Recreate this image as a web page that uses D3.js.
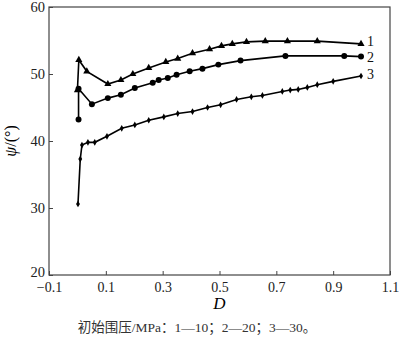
<!DOCTYPE html>
<html>
<head>
<meta charset="utf-8">
<script src="https://cdn.jsdelivr.net/npm/d3@7"></script>
<style>
  html, body { margin: 0; padding: 0; background: #fff; }
  svg { display: block; }
</style>
</head>
<body>
<svg id="chart" width="400" height="341"></svg>
<script>
// Dilatancy angle ψ versus damage variable D at three initial confining pressures
const series1D = [0.000, 0.005, 0.033, 0.107, 0.153, 0.195, 0.251, 0.311, 0.353, 0.405, 0.465, 0.507, 0.545, 0.595, 0.661, 0.739, 0.844, 0.998];
const series1Psi = [47.6, 52.1, 50.4, 48.5, 49.1, 50.0, 50.9, 51.8, 52.3, 53.1, 53.7, 54.2, 54.5, 54.8, 54.9, 54.9, 54.9, 54.5];

const series2D = [0.004, 0.004, 0.051, 0.107, 0.153, 0.202, 0.265, 0.286, 0.318, 0.349, 0.395, 0.440, 0.496, 0.574, 0.732, 0.939, 0.998];
const series2Psi = [43.2, 47.8, 45.5, 46.4, 46.9, 47.9, 48.7, 49.1, 49.4, 49.9, 50.4, 50.8, 51.4, 52.0, 52.7, 52.7, 52.6];

const series3D = [0.002, 0.010, 0.016, 0.037, 0.061, 0.104, 0.156, 0.202, 0.251, 0.304, 0.353, 0.405, 0.458, 0.504, 0.560, 0.612, 0.651, 0.721, 0.749, 0.777, 0.809, 0.844, 0.900, 0.998];
const series3Psi = [30.6, 37.3, 39.4, 39.8, 39.8, 40.7, 41.9, 42.4, 43.1, 43.6, 44.1, 44.4, 45.0, 45.4, 46.2, 46.6, 46.8, 47.4, 47.6, 47.7, 48.0, 48.4, 48.9, 49.7];

const seriesLabels = ["1", "2", "3"];
const xTicks = [-0.1, 0.1, 0.3, 0.5, 0.7, 0.9, 1.1];
const yTicks = [20, 30, 40, 50, 60];
const caption = "初始围压/MPa：1—10；2—20；3—30。";

const margin = { left: 49, right: 10, top: 7, bottom: 66 };
const W = 400, H = 341;
const svg = d3.select("#chart");
const serif = "'Liberation Serif', 'Times New Roman', serif";

const x = d3.scaleLinear().domain([-0.1, 1.1]).range([margin.left, W - margin.right]);
const y = d3.scaleLinear().domain([20, 60]).range([H - margin.bottom, margin.top]);

// frame
svg.append("rect")
  .attr("x", x(-0.1)).attr("y", y(60))
  .attr("width", x(1.1) - x(-0.1)).attr("height", y(20) - y(60))
  .attr("fill", "none").attr("stroke", "#444").attr("stroke-width", 1.2);

// axes with inward ticks
const xAxis = svg.append("g")
  .attr("transform", `translate(0,${y(20)})`)
  .call(d3.axisBottom(x).tickValues(xTicks).tickSizeInner(-4).tickSizeOuter(0)
    .tickFormat(d => d < 0 ? "\u22120.1" : d3.format(".1f")(d)));
xAxis.select(".domain").remove();
xAxis.selectAll("line").attr("stroke", "#444");
xAxis.selectAll("text").attr("font-family", serif).attr("font-size", 14)
  .attr("fill", "#222").attr("dy", "0.71em").attr("y", 7);

const yAxis = svg.append("g")
  .attr("transform", `translate(${x(-0.1)},0)`)
  .call(d3.axisLeft(y).tickValues(yTicks).tickSizeInner(-4).tickSizeOuter(0));
yAxis.select(".domain").remove();
yAxis.selectAll("line").attr("stroke", "#444");
yAxis.selectAll("text").attr("font-family", serif).attr("font-size", 14.5)
  .attr("fill", "#222").attr("x", -4)
  .attr("dy", d => d === 20 ? "0.1em" : "0.3em");

// series
const allSeries = [
  { d: series1D, v: series1Psi, shape: d3.symbolTriangle, size: 22, dy: -1.5 },
  { d: series2D, v: series2Psi, shape: d3.symbolCircle, size: 28, dy: 2 },
  { d: series3D, v: series3Psi, shape: d3.symbolDiamond, size: 13, dy: 0 }
];

const line = d3.line().x(p => x(p[0])).y(p => y(p[1]));

allSeries.forEach((s, i) => {
  const pts = s.d.map((dv, k) => [dv, s.v[k]]);
  svg.append("path").datum(pts)
    .attr("d", line).attr("fill", "none")
    .attr("stroke", "#000").attr("stroke-width", 1.6);
  svg.append("g").selectAll("path").data(pts).join("path")
    .attr("transform", p => `translate(${x(p[0])},${y(p[1])})`)
    .attr("d", d3.symbol().type(s.shape).size(s.size))
    .attr("fill", "#000");
  const last = pts[pts.length - 1];
  svg.append("text")
    .attr("x", x(last[0]) + 6).attr("y", y(last[1]) + s.dy)
    .attr("dominant-baseline", "middle")
    .attr("font-family", serif).attr("font-size", 14).attr("fill", "#111")
    .text(seriesLabels[i]);
});

// axis titles
svg.append("text")
  .attr("x", x(0.5)).attr("y", 309)
  .attr("text-anchor", "middle")
  .attr("font-family", serif).attr("font-style", "italic").attr("font-size", 17)
  .text("D");

const yt = svg.append("text")
  .attr("transform", `translate(16,${y(40)}) rotate(-90)`)
  .attr("text-anchor", "middle")
  .attr("font-family", serif).attr("font-size", 16);
yt.append("tspan").attr("font-style", "italic").text("ψ");
yt.append("tspan").text("/(°)");

// caption
svg.append("text")
  .attr("x", 197).attr("y", 332)
  .attr("text-anchor", "middle")
  .attr("font-family", "'Liberation Serif', 'Noto Sans CJK SC', serif")
  .attr("font-size", 13.5).attr("fill", "#333")
  .text(caption);
</script>
</body>
</html>
